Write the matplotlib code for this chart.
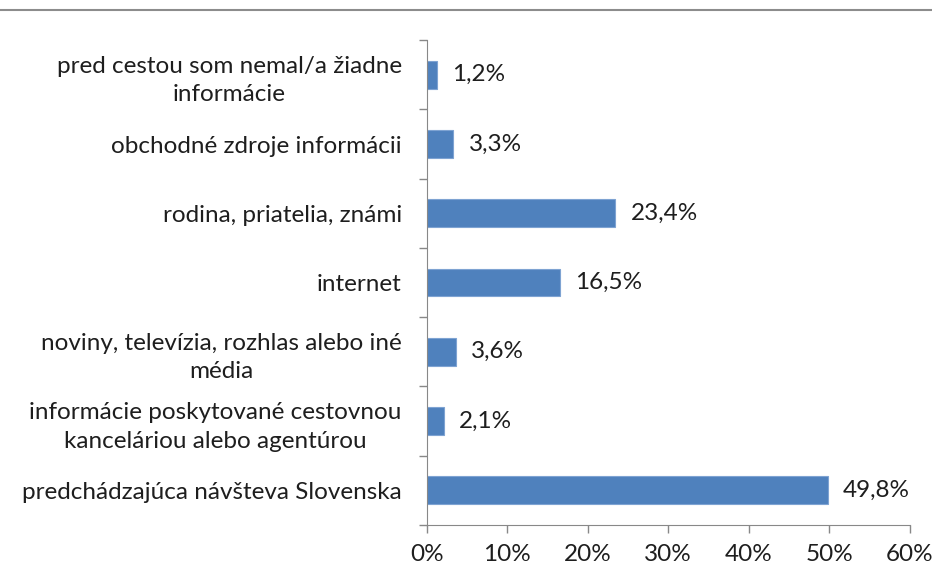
import matplotlib.pyplot as plt
from matplotlib.lines import Line2D
from matplotlib.ticker import MultipleLocator, FuncFormatter

# categories from top to bottom
categories = [
    "pred cestou som nemal/a žiadne\ninformácie",
    "obchodné zdroje informácii",
    "rodina, priatelia, známi",
    "internet",
    "noviny, televízia, rozhlas alebo iné\nmédia",
    "informácie poskytované cestovnou\nkanceláriou alebo agentúrou",
    "predchádzajúca návšteva Slovenska",
]
values = [1.2, 3.3, 23.4, 16.5, 3.6, 2.1, 49.8]
value_labels = ["1,2%", "3,3%", "23,4%", "16,5%", "3,6%", "2,1%", "49,8%"]

plt.rcParams['font.family'] = ['Lato', 'DejaVu Sans']
text_color = '#1e1e1e'
axis_color = '#888888'
fs = 17.5

fig = plt.figure(figsize=(9.32, 5.82), dpi=100)
ax = fig.add_axes([0.458, 0.098, 0.518, 0.833])

pos = list(range(len(categories)))
ax.barh(pos, values, height=0.4, color='#4F81BD', edgecolor='#7EA3D2', linewidth=0.8)

for p, v, lab in zip(pos, values, value_labels):
    ax.annotate(lab, (v, p), xytext=(11, 0), textcoords='offset points',
                va='center', ha='left', fontsize=fs, color=text_color)

ax.set_xlim(0, 60)
ax.set_ylim(len(categories) - 0.5, -0.5)
ax.xaxis.set_major_locator(MultipleLocator(10))
ax.xaxis.set_major_formatter(FuncFormatter(lambda x, _: f"{x:.0f}%"))

ax.set_yticks(pos)
ax.set_yticklabels(categories, fontsize=fs, color=text_color, ha='right',
                   multialignment='center', linespacing=1.45)
ax.set_yticks([p - 0.5 for p in pos] + [len(pos) - 0.5], minor=True)
ax.tick_params(axis='y', which='major', length=0, pad=18)
ax.tick_params(axis='y', which='minor', length=6, color=axis_color, width=1)
ax.tick_params(axis='x', length=6, color=axis_color, width=1, labelsize=fs,
               labelcolor=text_color, pad=8)

for s in ['top', 'right']:
    ax.spines[s].set_visible(False)
ax.spines['left'].set_color(axis_color)
ax.spines['bottom'].set_color(axis_color)

fig.add_artist(Line2D([0, 1], [0.982, 0.982], color='#8c8c8c', linewidth=1.5))

fig.savefig('out.png', dpi=100, facecolor='white')
